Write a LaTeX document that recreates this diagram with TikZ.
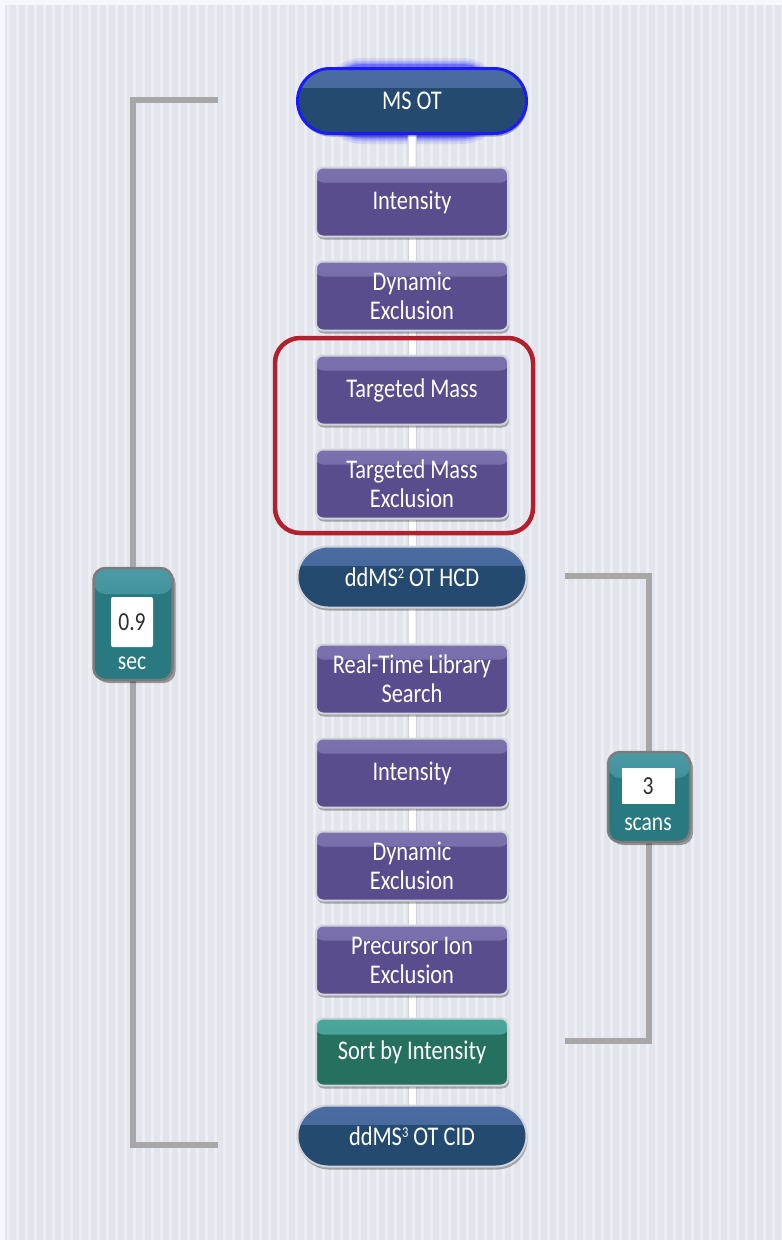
\documentclass[tikz,border=0pt]{standalone}
\usepackage{fontspec}
\setmainfont{Carlito}[FakeStretch=0.83]
\usetikzlibrary{shapes.misc,shadows,backgrounds}
\pgfdeclarelayer{bgzero}
\pgfsetlayers{bgzero,background,main}
\definecolor{pageW}{HTML}{F4F8FC}
\definecolor{pageG}{HTML}{E2E5EC}
\definecolor{stripe}{HTML}{ECEEF3}
\definecolor{purMain}{HTML}{5A4D8E}
\definecolor{purTop}{HTML}{7B71AE}
\definecolor{navyMain}{HTML}{244A70}
\definecolor{navyTop}{HTML}{4B6CA2}
\definecolor{grnMain}{HTML}{25705F}
\definecolor{grnTop}{HTML}{4BA69B}
\definecolor{tealMain}{HTML}{287A80}
\definecolor{tealTop}{HTML}{4A9BA6}
\definecolor{edgeGray}{HTML}{D2D3DA}
\definecolor{bracketGray}{HTML}{A7A7A7}
\definecolor{badgeEdge}{HTML}{7C7C7C}
\definecolor{redBox}{HTML}{B3202D}
\definecolor{glowBlue}{HTML}{1A1AFF}
\definecolor{numGray}{HTML}{2E2E2E}
\newcommand{\boxfont}{\fontsize{27}{29}\selectfont}
\newcommand{\supnum}[1]{\raisebox{0.62ex}{\fontsize{15}{15}\selectfont #1}}
\tikzset{
  box/.style={rectangle, rounded corners=7pt, minimum width=192pt, minimum height=69pt,
    inner sep=0pt, text=white, align=center, font=\boxfont, draw=edgeGray, line width=2pt,
    drop shadow={shadow xshift=1pt, shadow yshift=-3pt, opacity=.3, fill=black}},
  purplebox/.style={box, fill=purMain,
    path picture={\shade[top color=purTop, bottom color=purTop!70!purMain] (path picture bounding box.north west) rectangle ([yshift=-15pt]path picture bounding box.north east);}},
  greenbox/.style={box, fill=grnMain, minimum height=67pt,
    path picture={\shade[top color=grnTop, bottom color=grnTop!80!grnMain] (path picture bounding box.north west) rectangle ([yshift=-16pt]path picture bounding box.north east);}},
  pill/.style={rounded rectangle, minimum width=229pt, minimum height=61pt, inner sep=0pt,
    text=white, font=\boxfont, fill=navyMain, draw=edgeGray, line width=2pt,
    drop shadow={shadow xshift=1pt, shadow yshift=-3pt, opacity=.3, fill=black},
    path picture={\shade[top color=navyTop, bottom color=navyTop!75!navyMain] (path picture bounding box.north west) rectangle ([yshift=-19pt]path picture bounding box.north east);}},
  badge/.style={rectangle, rounded corners=12pt, inner sep=0pt, fill=tealMain, draw=badgeEdge, line width=2.5pt,
    drop shadow={shadow xshift=3pt, shadow yshift=-3pt, opacity=.35, fill=black},
    path picture={\shade[top color=tealTop, bottom color=tealMain] (path picture bounding box.north west) rectangle ([yshift=-26pt]path picture bounding box.north east);}},
  valbox/.style={rectangle, rounded corners=2pt, fill=white, inner sep=0pt, text=numGray, font=\fontsize{26}{29}\selectfont},
  unitlabel/.style={text=white, inner sep=0pt, font=\fontsize{26}{29}\selectfont},
  conn/.style={line width=9pt, draw=edgeGray},
  conninner/.style={line width=7pt, draw=white},
  bracket/.style={line width=6pt, draw=bracketGray, line cap=butt, line join=miter},
}
\begin{document}
\begin{tikzpicture}[x=1pt,y=-1pt]
\useasboundingbox (0,0) rectangle (782,1240);
\begin{pgfonlayer}{bgzero}
  \fill[pageW] (0,0) rectangle (782,1240);
  \fill[pageG] (5,5) rectangle (782,1240);
  \foreach \i in {0,...,86} {\fill[stripe] ({\i*9+7},5) rectangle ({\i*9+10},1240);}
\end{pgfonlayer}

% main column
\node[pill, draw=glowBlue, line width=3pt, minimum height=65pt] (ms1) at (412,101) {MS OT};
\node[purplebox] (int1) at (412,202) {Intensity};
\node[purplebox] (dyn1) at (412,296) {Dynamic\\Exclusion};
\node[purplebox] (tm) at (412,390) {Targeted Mass};
\node[purplebox] (tme) at (412,484) {Targeted Mass\\Exclusion};
\node[pill] (ms2) at (412,577) {ddMS\supnum{2} OT HCD};
\node[purplebox] (rtls) at (412,679) {Real-Time Library\\Search};
\node[purplebox] (int2) at (412,773) {Intensity};
\node[purplebox] (dyn2) at (412,866) {Dynamic\\Exclusion};
\node[purplebox] (pie) at (412,960) {Precursor Ion\\Exclusion};
\node[greenbox] (sort) at (412,1052) {Sort by Intensity};
\node[pill] (ms3) at (412,1136) {ddMS\supnum{3} OT CID};

% red highlight
\node[draw=redBox, line width=4.5pt, rounded corners=25pt, minimum width=258pt, minimum height=195pt, inner sep=0pt] (hl) at (404,435.5) {};

% badges
\node[badge, minimum width=79pt, minimum height=112pt] (secbadge) at (133,624) {};
\node[valbox, minimum width=42pt, minimum height=50pt] (secval) at (132,622) {0.9};
\node[unitlabel] (secunit) at (132,663) {sec};
\node[badge, minimum width=82pt, minimum height=90pt] (scanbadge) at (649,797) {};
\node[valbox, minimum width=53pt, minimum height=36pt, rounded corners=0pt] (scanval) at (648,786) {3};
\node[unitlabel] (scanunit) at (648,824) {scans};

\coordinate (lt) at (218,100);
\coordinate (lb) at (218,1145);
\coordinate (rt) at (565,576);
\coordinate (rb) at (565,1041);

\begin{pgfonlayer}{background}
  % glow around MS OT
  \foreach \w/\o in {18/0.10,13/0.15,9/0.22,6/0.3} {
    \draw[glowBlue, line width=\w pt, opacity=\o, rounded corners=32pt] (ms1.north west) rectangle (ms1.south east);
  }
  \foreach \a/\b in {ms1/int1,int1/dyn1,dyn1/tm,tm/tme,tme/ms2,ms2/rtls,rtls/int2,int2/dyn2,dyn2/pie,pie/sort,sort/ms3} {
    \draw[conn] (\a) -- (\b);
    \draw[conninner] (\a) -- (\b);
  }
  \draw[bracket] (lt) -| (secbadge.north);
  \draw[bracket] (secbadge.south) |- (lb);
  \draw[bracket] (rt) -| (scanbadge.north);
  \draw[bracket] (scanbadge.south) |- (rb);
\end{pgfonlayer}
\end{tikzpicture}
\end{document}
